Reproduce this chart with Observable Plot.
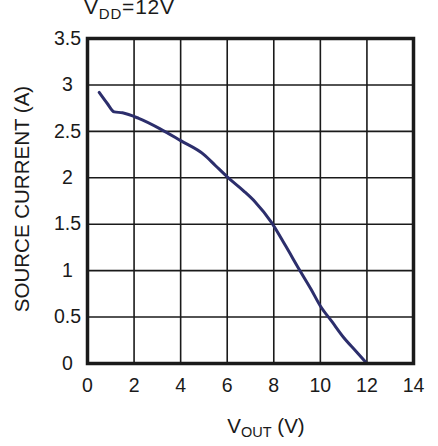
<!DOCTYPE html>
<html>
<head>
<meta charset="utf-8">
<script src="https://cdn.jsdelivr.net/npm/d3@7"></script>
<script src="https://cdn.jsdelivr.net/npm/@observablehq/plot@0.6"></script>
<style>
  html, body { margin: 0; padding: 0; background: #fff; }
  #chart svg { display: block; }
</style>
</head>
<body>
<div id="chart"></div>
<script>
// Data
const vout    = [0.5, 0.85, 1.15, 1.5, 2.2, 3.1, 4.0, 5.0, 5.5, 6.0, 6.7, 7.2, 7.9, 8.5, 9.1, 9.6, 10.0, 10.5, 11.0, 11.5, 12.0];
const current = [2.92, 2.80, 2.71, 2.70, 2.64, 2.53, 2.40, 2.25, 2.13, 2.01, 1.86, 1.74, 1.52, 1.27, 1.01, 0.80, 0.62, 0.45, 0.28, 0.14, 0.0];
const xTicks = [0, 2, 4, 6, 8, 10, 12, 14];
const xTickLabels = ["0", "2", "4", "6", "8", "10", "12", "14"];
const yTicks = [0, 0.5, 1, 1.5, 2, 2.5, 3, 3.5];
const yTickLabels = ["0", "0.5", "1", "1.5", "2", "2.5", "3", "3.5"];

const points = vout.map((v, i) => ({v, a: current[i]}));
const font = "'Liberation Sans', Arial, Helvetica, sans-serif";

const chart = Plot.plot({
  width: 438,
  height: 446,
  marginLeft: 87,
  marginRight: 25,
  marginTop: 38,
  marginBottom: 83,
  style: {fontFamily: font, background: "#fff", color: "#111"},
  x: {domain: [0, 14], axis: null},
  y: {domain: [0, 3.5], axis: null},
  marks: [
    Plot.ruleX(xTicks, {x: d => d, stroke: "#1a1a1a", strokeWidth: 1.6}),
    Plot.ruleY(yTicks, {y: d => d, stroke: "#1a1a1a", strokeWidth: 1.6}),
    Plot.line(points, {x: "v", y: "a", stroke: "#2c2e6c", strokeWidth: 3, curve: "monotone-x"}),
    Plot.frame({stroke: "#1a1a1a", strokeWidth: 3.5}),
    Plot.text(yTicks, {y: d => d, text: (d, i) => yTickLabels[i], frameAnchor: "left", dx: -20, textAnchor: "middle", lineAnchor: "middle", fontSize: 19.5, fill: "#1a1a1a"}),
    Plot.text(xTicks, {x: d => d, text: (d, i) => xTickLabels[i], frameAnchor: "bottom", dy: 22, lineAnchor: "middle", fontSize: 19.5, fill: "#1a1a1a"})
  ]
});

const svg = d3.select(chart);
// Title V_DD = 12V
const t = svg.append("text")
  .attr("x", 84).attr("y", 14)
  .attr("text-anchor", "start")
  .attr("letter-spacing", 0.8)
  .attr("font-size", 21).attr("fill", "#1a1a1a").attr("font-family", font);
t.append("tspan").text("V");
t.append("tspan").attr("font-size", 15).attr("dy", 5).text("DD");
t.append("tspan").attr("dy", -5).text("=12V");

// X label V_OUT (V)
const xl = svg.append("text")
  .attr("x", 266).attr("y", 433)
  .attr("text-anchor", "middle")
  .attr("font-size", 20.5).attr("fill", "#1a1a1a").attr("font-family", font);
xl.append("tspan").text("V");
xl.append("tspan").attr("font-size", 14.5).attr("dy", 4).text("OUT");
xl.append("tspan").attr("dy", -4).text(" (V)");

// Y label
svg.append("text")
  .attr("transform", "translate(29,199) rotate(-90)")
  .attr("text-anchor", "middle")
  .attr("font-size", 20.5).attr("fill", "#1a1a1a").attr("font-family", font)
  .text("SOURCE CURRENT (A)");

document.getElementById("chart").appendChild(chart);
</script>
</body>
</html>
